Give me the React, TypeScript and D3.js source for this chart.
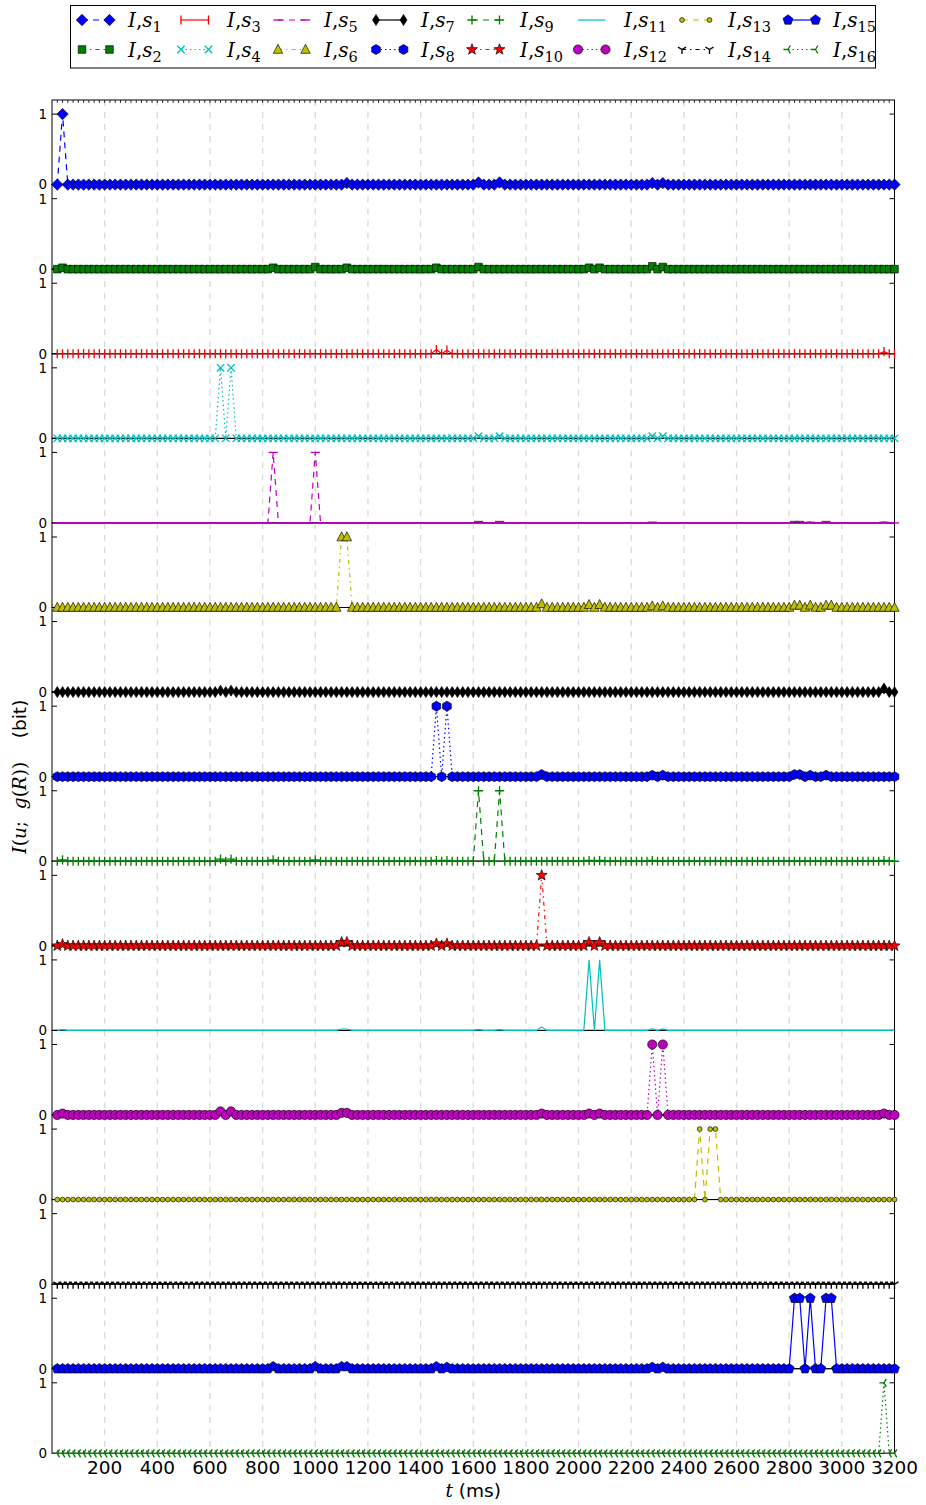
import React from "react";
import * as d3 from "d3";

// ---- data ----
const TIMES: number[] = d3.range(20, 3201, 20); // sample times (ms)
const X_TICKS = [200, 400, 600, 800, 1000, 1200, 1400, 1600, 1800, 2000, 2200, 2400, 2600, 2800, 3000, 3200];
const Y_TICKS = [0, 1];
const SERIES_LABELS = ["1", "2", "3", "4", "5", "6", "7", "8", "9", "10", "11", "12", "13", "14", "15", "16"];

// non-zero samples of each series: [t (ms), I (bit)]; all other samples are 0
const S1: [number, number][] = [[40, 1], [1120, 0.02], [1620, 0.03], [1700, 0.03], [2280, 0.02], [2320, 0.02]];
const S2: [number, number][] = [[40, 0.02], [840, 0.02], [1000, 0.03], [1120, 0.02], [1460, 0.02], [1620, 0.03], [2040, 0.02], [2080, 0.02], [2280, 0.04], [2320, 0.03]];
const S3: [number, number][] = [[1460, 0.06], [1500, 0.05], [3160, 0.03]];
const S4: [number, number][] = [[640, 1], [680, 1], [1620, 0.03], [1700, 0.03], [2280, 0.03], [2320, 0.03]];
const S5: [number, number][] = [[840, 1], [1000, 1], [1620, 0.02], [1700, 0.02], [2280, 0.01], [2820, 0.02], [2840, 0.02], [2880, 0.01], [2940, 0.02], [3160, 0.01]];
const S6: [number, number][] = [[1100, 1], [1120, 1], [1860, 0.05], [2040, 0.04], [2080, 0.04], [2280, 0.02], [2320, 0.02], [2820, 0.03], [2840, 0.03], [2880, 0.03], [2940, 0.03], [2960, 0.03]];
const S7: [number, number][] = [[640, 0.02], [680, 0.02], [3160, 0.05]];
const S8: [number, number][] = [[1460, 1], [1500, 1], [1860, 0.03], [2280, 0.02], [2320, 0.02], [2820, 0.03], [2840, 0.03], [2880, 0.02], [2940, 0.02]];
const S9: [number, number][] = [[40, 0.02], [640, 0.03], [680, 0.03], [840, 0.02], [1000, 0.02], [1460, 0.01], [1500, 0.01], [1620, 1], [1700, 1], [2040, 0.01], [2080, 0.01], [2280, 0.01], [3160, 0.01]];
const S10: [number, number][] = [[40, 0.02], [1100, 0.05], [1120, 0.05], [1460, 0.03], [1500, 0.03], [1860, 1], [2040, 0.05], [2080, 0.05]];
const S11: [number, number][] = [[40, 0.01], [1100, 0.02], [1120, 0.02], [1620, 0.01], [1700, 0.01], [1860, 0.05], [2040, 1], [2080, 1], [2280, 0.02], [2320, 0.02]];
const S12: [number, number][] = [[40, 0.02], [640, 0.05], [680, 0.05], [1100, 0.03], [1120, 0.03], [1860, 0.02], [2040, 0.02], [2080, 0.02], [2280, 1], [2320, 1], [3160, 0.02]];
const S13: [number, number][] = [[2460, 1], [2500, 1], [2520, 1]];
const S14: [number, number][] = [];
const S15: [number, number][] = [[840, 0.03], [1000, 0.03], [1100, 0.03], [1120, 0.03], [1460, 0.03], [1500, 0.02], [2280, 0.02], [2320, 0.02], [2820, 1], [2840, 1], [2880, 1], [2940, 1], [2960, 1]];
const S16: [number, number][] = [[3160, 1]];
const SERIES_EVENTS = [S1, S2, S3, S4, S5, S6, S7, S8, S9, S10, S11, S12, S13, S14, S15, S16];

// ---- styles ----
const COLORS = ["#0000ff", "#008000", "#ff0000", "#00bfbf", "#bf00bf", "#bfbf00", "#000000",
  "#0000ff", "#008000", "#ff0000", "#00bfbf", "#bf00bf", "#bfbf00", "#000000", "#0000ff", "#008000"];
const MARKERS = ["D", "s", "|", "x", "_", "^", "d", "h", "+", "*", ",", "o", ".", "1", "p", "3"];
const DASHES = ["6,5", "4,4,1.5,4", "none", "1.5,3"];

const W = 926, H = 1505;
const LEFT = 52, RIGHT = 894.5, TOP = 100, BOTTOM = 1453.3;
const NP = 16;
const PH = (BOTTOM - TOP) / NP;

function poly(n: number, r: number, rot: number) {
  const pts = d3.range(n).map(i => {
    const a = rot + (i * 2 * Math.PI) / n;
    return [r * Math.cos(a), r * Math.sin(a)];
  });
  return "M" + pts.map(p => p[0].toFixed(2) + "," + p[1].toFixed(2)).join("L") + "Z";
}
function star(r: number, ri: number) {
  const pts = d3.range(10).map(i => {
    const a = -Math.PI / 2 + (i * Math.PI) / 5;
    const rr = i % 2 === 0 ? r : ri;
    return [rr * Math.cos(a), rr * Math.sin(a)];
  });
  return "M" + pts.map(p => p[0].toFixed(2) + "," + p[1].toFixed(2)).join("L") + "Z";
}
const FILLED = new Set(["D", "s", "^", "d", "h", "*", "o", ".", "p"]);
function markerPath(m: string): string {
  switch (m) {
    case "D": return "M0,-5.7L5.7,0L0,5.7L-5.7,0Z";
    case "s": return "M-3.8,-3.8H3.8V3.8H-3.8Z";
    case "|": return "M0,-4.6V4.6";
    case "x": return "M-3.7,-3.7L3.7,3.7M-3.7,3.7L3.7,-3.7";
    case "_": return "M-4.6,0H4.6";
    case "^": return "M0,-5.2L4.7,3.8L-4.7,3.8Z";
    case "d": return "M0,-5.5L3.5,0L0,5.5L-3.5,0Z";
    case "h": return poly(6, 5, -Math.PI / 2);
    case "+": return "M-4.6,0H4.6M0,-4.6V4.6";
    case "*": return star(5.8, 2.4);
    case "o": return "M-4.6,0A4.6,4.6 0 1,0 4.6,0A4.6,4.6 0 1,0 -4.6,0Z";
    case ".": return "M-2.4,0A2.4,2.4 0 1,0 2.4,0A2.4,2.4 0 1,0 -2.4,0Z";
    case "1": return "M0,0V4.6M0,0L-4,-2.3M0,0L4,-2.3";
    case "p": return poly(5, 5.2, -Math.PI / 2);
    case "3": return "M0,0H-4.6M0,0L2.3,-4M0,0L2.3,4";
    default: return "";
  }
}

function Marker({ m, color, x, y }: { m: string; color: string; x: number; y: number }) {
  if (m === ",") return null;
  const d = markerPath(m);
  const filled = FILLED.has(m);
  return (
    <path d={d} transform={`translate(${x.toFixed(2)},${y.toFixed(2)})`}
      fill={filled ? color : "none"} stroke={filled ? "#000" : color}
      strokeWidth={filled ? 0.65 : 1.35} />
  );
}

function seriesValues(ev: [number, number][]) {
  const map = new Map(ev.map(e => [e[0], e[1]]));
  return TIMES.map(t => ({ t, v: map.get(t) ?? 0 }));
}

const LEG_M1 = [82, 181, 278, 376, 472, 578, 682, 788];
const LEG_TX = [128, 227, 324, 421, 520, 624, 728, 833];

export default function App() {
  const x = d3.scaleLinear().domain([0, 3200]).range([LEFT, RIGHT]);
  const fs = "DejaVu Sans, sans-serif";
  const serif = "DejaVu Serif, serif";
  const panels = SERIES_EVENTS.map((ev, i) => {
    const top = TOP + i * PH;
    const y = d3.scaleLinear().domain([0, 1.2]).range([top + PH, top]);
    return { i, top, y, data: seriesValues(ev) };
  });
  return (
    <svg width={W} height={H} style={{ position: "absolute", left: 0, top: 0, background: "#fff" }}
      xmlns="http://www.w3.org/2000/svg">
      <rect x={0} y={0} width={W} height={H} fill="#fff" />
      {/* axes: grid, frame, ticks */}
      {panels.map(({ i, top, y }) => (
        <g key={"ax" + i}>
          {X_TICKS.slice(0, -1).map(t => (
            <line key={t} x1={x(t)} x2={x(t)} y1={top} y2={top + PH} stroke="#d9d9d9"
              strokeWidth={1.3} strokeDasharray="6,6" />
          ))}
          <rect x={LEFT} y={top} width={RIGHT - LEFT} height={PH} fill="none" stroke="#000" strokeWidth={1} />
          {Y_TICKS.map(v => (
            <g key={v}>
              <line x1={LEFT} x2={LEFT + 5} y1={y(v)} y2={y(v)} stroke="#000" strokeWidth={1} />
              <line x1={RIGHT} x2={RIGHT - 5} y1={y(v)} y2={y(v)} stroke="#000" strokeWidth={1} />
              <text x={LEFT - 5} y={y(v)} dy="0.36em" textAnchor="end" fontFamily={fs} fontSize={13.5}>{v}</text>
            </g>
          ))}
          {i === 0 && TIMES.map(t => (
            <line key={t} x1={x(t)} x2={x(t)} y1={top} y2={top + 3} stroke="#000" strokeWidth={0.8} />
          ))}
          {i === NP - 1 && TIMES.map(t => (
            <line key={t} x1={x(t)} x2={x(t)} y1={top + PH} y2={top + PH - 3} stroke="#000" strokeWidth={0.8} />
          ))}
        </g>
      ))}
      {/* data */}
      {panels.map(({ i, y, data }) => {
        const line = d3.line<{ t: number; v: number }>().x(d => x(d.t)).y(d => y(d.v));
        const dash = DASHES[i % 4];
        return (
          <g key={"s" + i}>
            <path d={line(data) || ""} fill="none" stroke={COLORS[i]} strokeWidth={1.2}
              strokeDasharray={dash === "none" ? undefined : dash} />
            {data.map(d => (
              <Marker key={d.t} m={MARKERS[i]} color={COLORS[i]} x={x(d.t)} y={y(d.v)} />
            ))}
          </g>
        );
      })}
      {/* x tick labels */}
      {X_TICKS.map(t => (
        <text key={t} x={x(t)} y={1474} textAnchor="middle" fontFamily={fs} fontSize={18.5}>{t}</text>
      ))}
      <text x={(LEFT + RIGHT) / 2} y={1497} textAnchor="middle" fontFamily={fs} fontSize={18.5}>
        <tspan fontFamily={serif} fontStyle="italic">t</tspan> (ms)
      </text>
      <text transform={`translate(26,${(TOP + BOTTOM) / 2}) rotate(-90)`} textAnchor="middle" fontFamily={serif} fontSize={18.5}>
        <tspan fontStyle="italic">I</tspan>(<tspan fontStyle="italic">u</tspan>;{"\u00a0\u00a0"}<tspan fontStyle="italic">g</tspan>(<tspan fontStyle="italic">R</tspan>)){"\u00a0\u00a0\u00a0\u00a0"}<tspan fontFamily={fs}>(bit)</tspan>
      </text>
      {/* legend */}
      <rect x={70.5} y={5.5} width={805} height={62.5} fill="#fff" stroke="#000" strokeWidth={1} />
      {SERIES_LABELS.map((lab, i) => {
        const col = Math.floor(i / 2);
        const row = i % 2;
        const cy = row === 0 ? 20 : 49.5;
        const x1 = LEG_M1[col], x2 = LEG_M1[col] + 27.5;
        const dash = DASHES[i % 4];
        return (
          <g key={lab}>
            <line x1={x1} x2={x2} y1={cy} y2={cy} stroke={COLORS[i]} strokeWidth={1.2}
              strokeDasharray={dash === "none" ? undefined : dash} />
            <Marker m={MARKERS[i]} color={COLORS[i]} x={x1} y={cy} />
            <Marker m={MARKERS[i]} color={COLORS[i]} x={x2} y={cy} />
            <text x={LEG_TX[col]} y={cy + 7} fontFamily={serif} fontSize={20}>
              <tspan fontStyle="italic">I</tspan>,<tspan fontStyle="italic">s</tspan>
              <tspan dy={5} fontSize={14.5}>{lab}</tspan>
            </text>
          </g>
        );
      })}
    </svg>
  );
}
